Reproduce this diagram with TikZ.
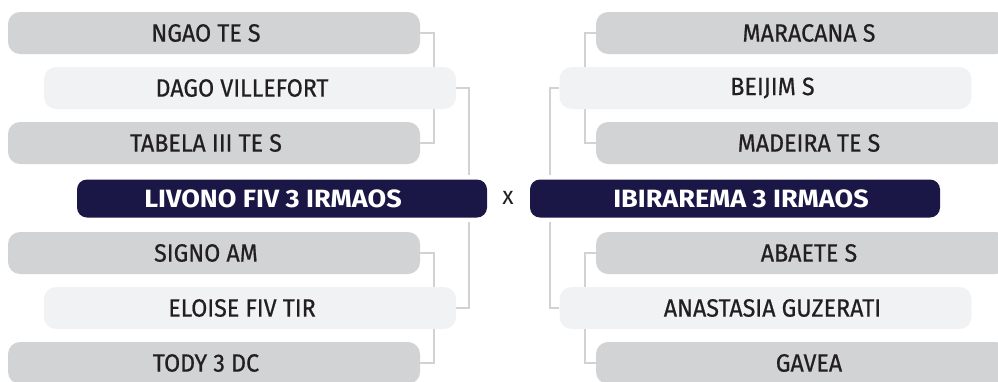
\documentclass[tikz,border=0pt]{standalone}
\usepackage{fontspec}
\newfontfamily\namefont{Fira Sans}[FakeStretch=0.93,FakeBold=0.6]
\newfontfamily\finalfont{Fira Sans}[FakeStretch=1.08]
\newfontfamily\vsfont{Fira Sans}[FakeStretch=0.93]
\usetikzlibrary{backgrounds}
\definecolor{boxgrey}{HTML}{D1D3D4}
\definecolor{boxlight}{HTML}{F1F2F3}
\definecolor{navy}{HTML}{1A1746}
\definecolor{ink}{HTML}{231F20}
\definecolor{connc}{HTML}{D2D2D2}
\begin{document}
\begin{tikzpicture}[x=1pt,y=-1pt,
  teambox/.style={rectangle,rounded corners=12pt,minimum width=412pt,minimum height=42pt,inner sep=0pt,draw=none},
  greybox/.style={teambox,fill=boxgrey},
  lightbox/.style={teambox,fill=boxlight},
  finalbox/.style={rectangle,rounded corners=10pt,minimum width=410pt,minimum height=38pt,inner sep=0pt,fill=navy},
  tname/.style={text=ink,font=\namefont\fontsize{25}{28}\selectfont,inner sep=0pt,anchor=center},
  fname/.style={text=white,font=\finalfont\fontsize{25}{28}\selectfont\bfseries,inner sep=0pt,anchor=center},
  vs/.style={text=ink,font=\vsfont\fontsize{25}{28}\selectfont,inner sep=0pt,anchor=center},
  conn/.style={draw=connc,line width=2pt}]
\useasboundingbox (0,0) rectangle (998,381);
\clip (0,0) rectangle (998,381);
% left boxes
\node[greybox]  (l1) at (214,33)  {};
\node[lightbox] (l2) at (250,88)  {};
\node[greybox]  (l3) at (214,143) {};
\node[finalbox] (L)  at (282,198.5) {};
\node[greybox]  (l5) at (214,253) {};
\node[lightbox] (l6) at (250,308) {};
\node[greybox]  (l7) at (214,363) {};
% right boxes
\node[greybox]  (r1) at (802,33)  {};
\node[lightbox] (r2) at (765.5,88) {};
\node[greybox]  (r3) at (802,143) {};
\node[finalbox] (R)  at (735,198.5) {};
\node[greybox]  (r5) at (802,253) {};
\node[lightbox] (r6) at (765.5,308) {};
\node[greybox]  (r7) at (802,363) {};
% texts
\node[tname] (tl1) at ([xshift=-8pt]l1.center) {NGAO TE S};
\node[tname] (tl2) at ([xshift=-8pt]l2.center) {DAGO VILLEFORT};
\node[tname] (tl3) at ([xshift=-8pt]l3.center) {TABELA III TE S};
\node[fname] (tL)  at ([xshift=-9pt]L.center)  {LIVONO FIV 3 IRMAOS};
\node[tname] (tl5) at ([xshift=-8pt]l5.center) {SIGNO AM};
\node[tname] (tl6) at ([xshift=-8pt]l6.center) {ELOISE FIV TIR};
\node[tname] (tl7) at ([xshift=-8pt]l7.center) {TODY 3 DC};
\node[tname] (tr1) at ([xshift=7pt]r1.center) {MARACANA S};
\node[tname] (tr2) at ([xshift=7pt]r2.center) {BEIJIM S};
\node[tname] (tr3) at ([xshift=7pt]r3.center) {MADEIRA TE S};
\node[fname] (tR)  at ([xshift=6pt]R.center)  {IBIRAREMA 3 IRMAOS};
\node[tname] (tr5) at ([xshift=7pt]r5.center) {ABAETE S};
\node[tname] (tr6) at ([xshift=7pt]r6.center) {ANASTASIA GUZERATI};
\node[tname] (tr7) at ([xshift=7pt]r7.center) {GAVEA};
\node[vs] (x) at (508,198) {x};
% connectors (behind boxes)
\begin{pgfonlayer}{background}
\draw[conn] (l1.east) -- ++(14pt,0pt) |- (l3.east);
\draw[conn] (l5.east) -- ++(14pt,0pt) |- (l7.east);
\draw[conn] (l2.east) -| ([shift={(-18pt,4pt)}]L.north east);
\draw[conn] (l6.east) -| ([shift={(-18pt,-4pt)}]L.south east);
\draw[conn] (r1.west) -- ++(-11pt,0pt) |- (r3.west);
\draw[conn] (r5.west) -- ++(-11pt,0pt) |- (r7.west);
\draw[conn] (r2.west) -| ([shift={(20pt,4pt)}]R.north west);
\draw[conn] (r6.west) -| ([shift={(20pt,-4pt)}]R.south west);
\end{pgfonlayer}
\end{tikzpicture}
\end{document}
